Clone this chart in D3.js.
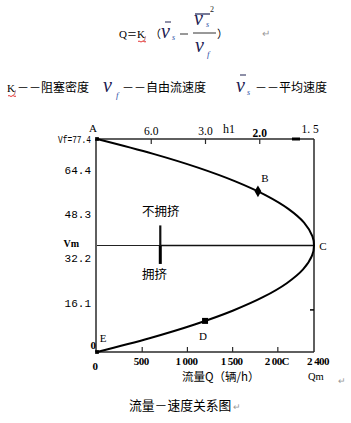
<!DOCTYPE html>
<html><head><meta charset="utf-8">
<script src="https://cdn.jsdelivr.net/npm/d3@7"></script>
<style>html,body{margin:0;padding:0;background:#fff;}svg{display:block;}</style>
</head><body>
<script>
// ---- data ----
const speeds = [0, 5, 10, 15, 20, 25, 30, 35, 38.7, 42, 47, 52, 57, 62, 67, 72, 77.4];
const flows  = [0, 580, 1080, 1500, 1840, 2099, 2279, 2378, 2400, 2383, 2290, 2116, 1863, 1530, 1117, 623, 0];
const yTickValues = [77.4, 64.4, 48.3, 38.7, 32.2, 16.1, 0];
const yTickLabels = ["Vf=77.4", "64.4", "48.3", "Vm", "32.2", "16.1", "0"];
const xTickValues = [0, 500, 1000, 1500, 2000, 2400];
const xTickLabels = ["0", "500", "1 000", "1 500", "2 00C", "2 400"];
const hTickValues = [6.0, 3.0, 2.0, 1.5];
const hTickLabels = ["6.0", "3.0", "2.0", "1. 5"];
const keyPoints = [
  {name: "A", q: 0, v: 77.4},
  {name: "B", q: 1780, v: 58.4},
  {name: "C", q: 2400, v: 38.7},
  {name: "D", q: 1195, v: 11.3},
  {name: "E", q: 0, v: 0}
];
const vm = 38.7, qm = 2400, vf = 77.4;
const dividerQ = 700, dividerV = [46, 32];

const W = 351, H = 423;
const svg = d3.select("body").append("svg").attr("width", W).attr("height", H);

const x = d3.scaleLinear().domain([0, 2400]).range([97, 314]);
const y = d3.scaleLinear().domain([0, 77.4]).range([352, 139]);

const cjk = "'Noto Sans CJK SC', 'Noto Sans', sans-serif";
const serif = "'Liberation Serif', 'DejaVu Serif', serif";
const mono = "'Liberation Mono', 'DejaVu Sans Mono', monospace";

// ---- formula ----
const f = svg.append("g");
const vCol = "#1c2050", sCol = "#3050a8";
f.append("text").attr("x", 119).attr("y", 38).attr("font-family", serif).attr("font-size", 11).text("Q");
f.append("text").attr("x", 127).attr("y", 38).attr("font-family", cjk).attr("font-size", 10).text("＝");
f.append("text").attr("x", 137).attr("y", 38).attr("font-family", serif).attr("font-size", 11).text("K");
f.append("text").attr("x", 144).attr("y", 40).attr("font-family", serif).attr("font-style","italic").attr("font-size", 7).attr("fill","#800").text("j");
f.append("path").attr("d","M138,41.5 q1,-1 2,0 q1,1 2,0 q1,-1 2,0 q1,1 2,0").attr("stroke","#d00").attr("fill","none").attr("stroke-width",0.8);
f.append("text").attr("x", 150).attr("y", 38).attr("font-family", cjk).attr("font-size", 11).text("（");
// v̄s
f.append("text").attr("x", 161).attr("y", 38).attr("font-family", serif).attr("font-style","italic").attr("font-size", 20).attr("fill", vCol).text("v");
f.append("line").attr("x1",165).attr("x2",171).attr("y1",22).attr("y2",22).attr("stroke",vCol).attr("stroke-width",1);
f.append("text").attr("x", 172).attr("y", 40).attr("font-family", serif).attr("font-style","italic").attr("font-size", 8).attr("fill", sCol).text("s");
f.append("line").attr("x1",180).attr("x2",188).attr("y1",34).attr("y2",34).attr("stroke","#333").attr("stroke-width",1);
// fraction
f.append("text").attr("x", 194).attr("y", 25).attr("font-family", serif).attr("font-style","italic").attr("font-size", 20).attr("fill", vCol).text("v");
f.append("line").attr("x1",195).attr("x2",210).attr("y1",14).attr("y2",14).attr("stroke",vCol).attr("stroke-width",1.2);
f.append("text").attr("x", 210).attr("y", 12).attr("font-family", serif).attr("font-size", 8).attr("fill", "#222").text("2");
f.append("text").attr("x", 206).attr("y", 27).attr("font-family", serif).attr("font-style","italic").attr("font-size", 8).attr("fill", sCol).text("s");
f.append("line").attr("x1",193).attr("x2",216).attr("y1",33).attr("y2",33).attr("stroke","#333").attr("stroke-width",1);
f.append("text").attr("x", 195).attr("y", 52).attr("font-family", serif).attr("font-style","italic").attr("font-size", 20).attr("fill", vCol).text("v");
f.append("text").attr("x", 207).attr("y", 57).attr("font-family", serif).attr("font-style","italic").attr("font-size", 9).attr("fill", sCol).text("f");
f.append("text").attr("x", 217).attr("y", 38).attr("font-family", cjk).attr("font-size", 11).text("）");
f.append("text").attr("x", 262).attr("y", 37).attr("font-family", cjk).attr("font-size", 10).attr("fill", "#999").text("↵");

// second line
f.append("text").attr("x", 7).attr("y", 92).attr("font-family", serif).attr("font-size", 11).text("K");
f.append("text").attr("x", 14).attr("y", 94).attr("font-family", serif).attr("font-style","italic").attr("font-size", 7).attr("fill","#800").text("j");
f.append("path").attr("d","M8,96 q1,-1 2,0 q1,1 2,0 q1,-1 2,0 q1,1 2,0").attr("stroke","#d00").attr("fill","none").attr("stroke-width",0.8);
f.append("text").attr("x", 17).attr("y", 92).attr("font-family", cjk).attr("font-size", 12).text("－－阻塞密度");
f.append("text").attr("x", 103).attr("y", 92).attr("font-family", serif).attr("font-style","italic").attr("font-size", 20).attr("fill", vCol).text("v");
f.append("text").attr("x", 116).attr("y", 98).attr("font-family", serif).attr("font-style","italic").attr("font-size", 9).attr("fill", sCol).text("f");
f.append("text").attr("x", 122).attr("y", 92).attr("font-family", cjk).attr("font-size", 12).text("－－自由流速度");
f.append("text").attr("x", 236).attr("y", 92).attr("font-family", serif).attr("font-style","italic").attr("font-size", 20).attr("fill", vCol).text("v");
f.append("line").attr("x1",240).attr("x2",246).attr("y1",75).attr("y2",75).attr("stroke",vCol).attr("stroke-width",1);
f.append("text").attr("x", 247).attr("y", 95).attr("font-family", serif).attr("font-style","italic").attr("font-size", 8).attr("fill", sCol).text("s");
f.append("text").attr("x", 255).attr("y", 92).attr("font-family", cjk).attr("font-size", 12).text("－－平均速度");

// ---- frame ----
const frameCol = "#2a2a2a";
const fr = svg.append("g").attr("stroke", frameCol).attr("stroke-width", 1.5).attr("fill","none");
fr.append("line").attr("x1", x(0)-1).attr("x2", x(0)-1).attr("y1", y(vf)).attr("y2", y(0));
fr.append("line").attr("x1", x(0)-1).attr("x2", x(qm)).attr("y1", y(0)).attr("y2", y(0));
fr.append("line").attr("x1", x(0)-1).attr("x2", x(qm)).attr("y1", y(vf)).attr("y2", y(vf));
fr.append("line").attr("x1", x(qm)).attr("x2", x(qm)).attr("y1", y(vf)).attr("y2", y(0));
// thick dash on top near 1.5 and on right side
svg.append("line").attr("x1", 292).attr("x2", 300).attr("y1", y(vf)).attr("y2", y(vf)).attr("stroke","#000").attr("stroke-width",3);
svg.append("line").attr("x1", x(qm)-4).attr("x2", x(qm)).attr("y1", y(15.3)).attr("y2", y(15.3)).attr("stroke","#000").attr("stroke-width",1.5);

// bottom ticks (inside, upward)
svg.append("g").selectAll("line").data(xTickValues.slice(1, -1)).join("line")
  .attr("x1", d => x(d)).attr("x2", d => x(d)).attr("y1", y(0)).attr("y2", y(0) - 5)
  .attr("stroke", frameCol).attr("stroke-width", 1.2);
// bottom tick labels
svg.append("g").selectAll("text").data(xTickValues).join("text")
  .attr("x", (d, i) => i === 0 ? x(d) - 2 : (i === xTickValues.length - 1 ? x(d) + 4 : x(d) - 1))
  .attr("y", (d, i) => i === 0 ? 370 : 365)
  .attr("text-anchor", "middle").attr("font-family", serif).attr("font-weight", "bold")
  .attr("font-size", 11).attr("letter-spacing", -0.6)
  .text((d, i) => xTickLabels[i]);

// top h1 axis ticks and labels (h = 3600 / Q)
const hq = h => 3600 / h;
svg.append("g").selectAll("line").data(hTickValues.slice(0, -1)).join("line")
  .attr("x1", d => x(hq(d))).attr("x2", d => x(hq(d))).attr("y1", y(vf)).attr("y2", y(vf) + 5)
  .attr("stroke", frameCol).attr("stroke-width", 1.2);
svg.append("g").selectAll("text").data(hTickValues).join("text")
  .attr("x", (d, i) => i === hTickValues.length - 1 ? x(hq(d)) - 4 : x(hq(d)))
  .attr("y", (d, i) => i === 2 ? 137 : (i === 3 ? 133 : 135))
  .attr("text-anchor", "middle").attr("font-family", serif)
  .attr("font-weight", (d, i) => i === 2 ? "bold" : "normal")
  .attr("font-size", 11.5)
  .text((d, i) => hTickLabels[i]);
svg.append("text").attr("x", 229).attr("y", 133).attr("text-anchor","middle").attr("font-family", serif).attr("font-size", 12).text("h1");

// left tick labels
svg.append("g").selectAll("text").data(yTickValues).join("text")
  .attr("x", (d, i) => yTickLabels[i] === "0" ? 96 : (yTickLabels[i] === "Vm" ? 79 : 91))
  .attr("y", d => y(d) + (d === vf ? 4 : (d === 0 ? -3 : (d === vm ? 1 : -1))))
  .attr("text-anchor", "end")
  .attr("font-family", (d, i) => yTickLabels[i] === "Vm" || yTickLabels[i] === "0" ? serif : mono)
  .attr("font-weight", (d, i) => yTickLabels[i] === "Vm" || yTickLabels[i] === "0" ? "bold" : "normal")
  .attr("font-size", (d, i) => yTickLabels[i] === "Vm" ? 10 : 11)
  .each(function(d, i) {
    const t = d3.select(this).text(yTickLabels[i]);
    if (yTickLabels[i] === "Vf=77.4") t.attr("textLength", 33).attr("lengthAdjust", "spacingAndGlyphs");
  });

// Vm horizontal line
svg.append("line").attr("x1", x(0)).attr("x2", x(dividerQ)).attr("y1", y(vm)).attr("y2", y(vm)).attr("stroke", "#222").attr("stroke-width", 1);
svg.append("line").attr("x1", x(dividerQ)).attr("x2", x(qm)).attr("y1", y(vm)).attr("y2", y(vm)).attr("stroke", "#111").attr("stroke-width", 1.6);

// divider vertical line
svg.append("line").attr("x1", x(dividerQ)).attr("x2", x(dividerQ)).attr("y1", y(dividerV[0])).attr("y2", y(vm)).attr("stroke", "#111").attr("stroke-width", 2.2);
svg.append("line").attr("x1", x(dividerQ)).attr("x2", x(dividerQ)).attr("y1", y(vm)).attr("y2", y(dividerV[1])).attr("stroke", "#000").attr("stroke-width", 3);

svg.append("text").attr("x", 142).attr("y", 216).attr("font-family", cjk).attr("font-size", 12.5).text("不拥挤");
svg.append("text").attr("x", 142).attr("y", 279).attr("font-family", cjk).attr("font-size", 12.5).text("拥挤");

// ---- curve ----
const pts = speeds.map((v, i) => [x(flows[i]), y(v)]);
svg.append("path").attr("d", d3.line().curve(d3.curveCatmullRom.alpha(0.5))(pts))
  .attr("fill", "none").attr("stroke", "#000").attr("stroke-width", 2);

// key point markers and labels
const kp = svg.append("g");
kp.selectAll("path").data(keyPoints).join("path")
  .attr("transform", d => `translate(${x(d.q)},${y(d.v)})`)
  .attr("d", d => d3.symbol().type(d.name === "B" ? d3.symbolDiamond : d3.symbolSquare).size(d.name === "D" ? 36 : (d.name === "B" ? 40 : 14))())
  .attr("fill", "#000")
  .attr("opacity", d => d.name === "C" ? 0 : 1);
const labOff = {A: [-4, -7], B: [7, -9], C: [9, 4], D: [-2, 19], E: [6, -10]};
kp.selectAll("text").data(keyPoints).join("text")
  .attr("x", d => x(d.q) + labOff[d.name][0])
  .attr("y", d => y(d.v) + labOff[d.name][1])
  .attr("font-family", serif).attr("font-size", 11).attr("text-anchor", "middle")
  .text(d => d.name);

// axis titles and caption
svg.append("text").attr("x", 182).attr("y", 381).attr("font-family", cjk).attr("font-size", 11.5).text("流量Q（辆/h）");
svg.append("text").attr("x", 308).attr("y", 380).attr("font-family", serif).attr("font-size", 10.5).text("Qm");
svg.append("text").attr("x", 338).attr("y", 384).attr("font-family", cjk).attr("font-size", 9).attr("fill", "#999").text("↵");
svg.append("text").attr("x", 129).attr("y", 410).attr("font-family", cjk).attr("font-size", 12.8).text("流量－速度关系图");
svg.append("text").attr("x", 233).attr("y", 410).attr("font-family", cjk).attr("font-size", 9).attr("fill", "#999").text("↵");
</script>
</body></html>
